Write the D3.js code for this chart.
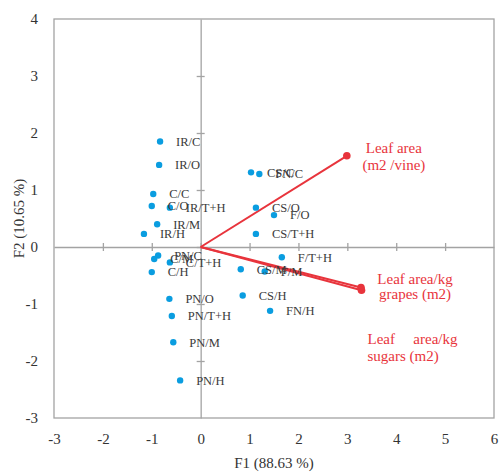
<!DOCTYPE html>
<html>
<head>
<meta charset="utf-8">
<script src="https://cdn.jsdelivr.net/npm/d3@7"></script>
<style>
  body { margin: 0; background: #fff; }
  svg { display: block; font-family: "Liberation Serif", "Times New Roman", serif; }
</style>
</head>
<body>
<div id="chart"></div>
<script>
// observations (scores on F1 / F2)
const obsLabels = ['IR/C', 'IR/O', 'C/C', 'C/O', 'IR/T+H', 'IR/M', 'IR/H',
  'CS/C', 'FN/C', 'CS/O', 'F/O', 'CS/T+H',
  'PN/C', 'C/M', 'C/T+H', 'C/H',
  'F/T+H', 'CS/M', 'F/M', 'CS/H', 'FN/H',
  'PN/O', 'PN/T+H', 'PN/M', 'PN/H']
const obsF1 = [-0.83, -0.85, -0.97, -1.0, -0.63, -0.89, -1.16,
  1.03, 1.2, 1.13, 1.5, 1.13,
  -0.87, -0.95, -0.63, -1.0,
  1.66, 0.82, 1.31, 0.86, 1.42,
  -0.64, -0.59, -0.56, -0.42]
const obsF2 = [1.85, 1.44, 0.93, 0.72, 0.69, 0.4, 0.23,
  1.31, 1.28, 0.69, 0.56, 0.23,
  -0.15, -0.21, -0.27, -0.44,
  -0.18, -0.39, -0.43, -0.85, -1.12,
  -0.91, -1.21, -1.67, -2.34]

// variables (loadings)
const varNames = ['Leaf area (m2 /vine)', 'Leaf area/kg grapes (m2)', 'Leaf area/kg sugars (m2)']
const varF1 = [2.99, 3.28, 3.29]
const varF2 = [1.6, -0.71, -0.76]

const xTicks = [-3, -2, -1, 0, 1, 2, 3, 4, 5, 6]
const yTicks = [-3, -2, -1, 0, 1, 2, 3, 4]

const width = 503
const height = 473
const red = '#e8343c'
const blue = '#0a9de0'
const gray = '#a3a3a3'

const svg = d3.select('#chart')
  .append('svg')
  .attr('width', width)
  .attr('height', height)

const x = d3.scaleLinear().domain([-3, 6]).range([54, 494])
const y = d3.scaleLinear().domain([-3, 4]).range([418, 19])

// frame
svg.append('rect')
  .attr('x', x(-3))
  .attr('y', y(4))
  .attr('width', x(6) - x(-3))
  .attr('height', y(-3) - y(4))
  .attr('fill', 'none')
  .attr('stroke', gray)
  .attr('stroke-width', 1.3)

// zero lines with crossing ticks
const xZero = svg.append('g')
  .attr('transform', `translate(0,${y(0)})`)
  .call(d3.axisBottom(x).tickValues(xTicks.filter(d => d > -3 && d < 6)).tickSize(0).tickFormat(''))
xZero.selectAll('.tick line').attr('y1', -4).attr('y2', 4)
const yZero = svg.append('g')
  .attr('transform', `translate(${x(0)},0)`)
  .call(d3.axisLeft(y).tickValues(yTicks.filter(d => d > -3 && d < 4)).tickSize(0).tickFormat(''))
yZero.selectAll('.tick line').attr('x1', -4).attr('x2', 4)
svg.selectAll('.domain, .tick line').attr('stroke', gray).attr('stroke-width', 1.3)

// tick labels on the frame (plain hyphen minus as in the original)
const xLab = svg.append('g')
  .attr('transform', `translate(0,${y(-3)})`)
  .call(d3.axisBottom(x).tickValues(xTicks).tickSize(0).tickPadding(15).tickFormat(d => String(d)))
const yLab = svg.append('g')
  .attr('transform', `translate(${x(-3)},0)`)
  .call(d3.axisLeft(y).tickValues(yTicks).tickSize(0).tickPadding(16).tickFormat(d => String(d)))
for (const g of [xLab, yLab]) {
  g.select('.domain').remove()
  g.selectAll('text')
    .attr('font-family', '"Liberation Serif", serif')
    .attr('font-size', 15)
    .attr('fill', '#333')
}

// axis titles
svg.append('text')
  .attr('x', (x(-3) + x(6)) / 2)
  .attr('y', 468)
  .attr('text-anchor', 'middle')
  .attr('font-size', 15)
  .attr('fill', '#333')
  .text('F1 (88.63 %)')
svg.append('text')
  .attr('transform', `translate(24,${(y(4) + y(-3)) / 2}) rotate(-90)`)
  .attr('text-anchor', 'middle')
  .attr('font-size', 15)
  .attr('fill', '#333')
  .text('F2 (10.65 %)')

// variable vectors
const vars = varNames.map((name, i) => ({ name, f1: varF1[i], f2: varF2[i] }))
svg.append('g')
  .selectAll('line')
  .data(vars)
  .join('line')
  .attr('x1', x(0))
  .attr('y1', y(0))
  .attr('x2', d => x(d.f1))
  .attr('y2', d => y(d.f2))
  .attr('stroke', red)
  .attr('stroke-width', 2)
svg.append('g')
  .selectAll('circle')
  .data(vars)
  .join('circle')
  .attr('cx', d => x(d.f1))
  .attr('cy', d => y(d.f2))
  .attr('r', 3.8)
  .attr('fill', red)

// variable labels (wrapped as in the original)
const varLines = [
  [{ t: 'Leaf area', dx: 47, dy: -3, a: 'middle' }, { t: '(m2 /vine)', dx: 47, dy: 14, a: 'middle' }],
  [{ t: 'Leaf area/kg', dx: 54, dy: -3, a: 'middle' }, { t: 'grapes (m2)', dx: 54, dy: 12, a: 'middle' }],
  [{ t: 'Leaf', dx: 6, dy: 54, a: 'start' }, { t: 'area/kg', dx: 96, dy: 54, a: 'end' },
    { t: 'sugars (m2)', dx: 6, dy: 71, a: 'start' }]
]
vars.forEach((d, i) => {
  svg.append('g')
    .selectAll('text')
    .data(varLines[i])
    .join('text')
    .attr('x', l => x(d.f1) + l.dx)
    .attr('y', l => y(d.f2) + l.dy)
    .attr('text-anchor', l => l.a)
    .attr('font-size', 15)
    .attr('fill', red)
    .text(l => l.t)
})

// observations
const obs = obsLabels.map((name, i) => ({ name, f1: obsF1[i], f2: obsF2[i] }))
svg.append('g')
  .selectAll('circle')
  .data(obs)
  .join('circle')
  .attr('cx', d => x(d.f1))
  .attr('cy', d => y(d.f2))
  .attr('r', 3.2)
  .attr('fill', blue)
svg.append('g')
  .selectAll('text')
  .data(obs)
  .join('text')
  .attr('x', d => x(d.f1) + 16)
  .attr('y', d => y(d.f2))
  .attr('dy', '0.35em')
  .attr('font-size', 12.5)
  .attr('fill', '#3a3a3a')
  .text(d => d.name)
</script>
</body>
</html>
